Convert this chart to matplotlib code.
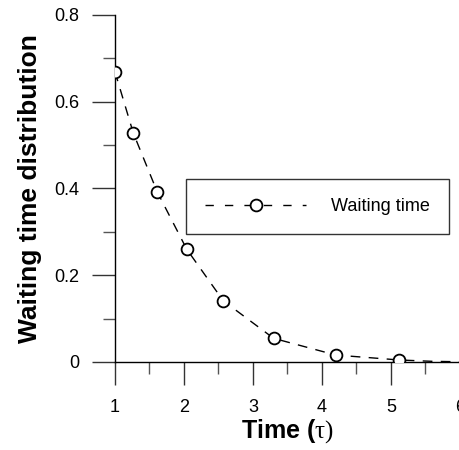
import numpy as np
import matplotlib.pyplot as plt
from matplotlib.ticker import MultipleLocator

# waiting time distribution vs time
t = np.array([1.0, 1.265, 1.613, 2.04, 2.57, 3.30, 4.20, 5.12])
p = np.array([0.669, 0.528, 0.392, 0.260, 0.141, 0.0545, 0.016, 0.0046])
# tail of the dashed curve out to the axis end
t_tail = np.array([5.6, 6.0])
p_tail = np.array([0.0015, 0.0005])

plt.rcParams['font.family'] = ['Liberation Sans', 'DejaVu Sans']
plt.rcParams['mathtext.fontset'] = 'custom'
plt.rcParams['mathtext.rm'] = 'Liberation Serif'
plt.rcParams['mathtext.it'] = 'Liberation Serif'

fig = plt.figure(figsize=(4.59, 4.50), dpi=100)
ax = fig.add_axes([0.2505, 0.1956, 0.7515, 0.7711])

ax.plot(np.concatenate([t, t_tail]), np.concatenate([p, p_tail]), '--',
        color='black', lw=1.0, dashes=(7, 6), zorder=2)
ax.plot(t, p, 'o', mfc='white', mec='black', mew=1.3, ms=8.5, zorder=3)
# legend proxy: dashed line with marker in the middle
ax.plot([], [], '--', color='black', lw=1.0, dashes=(6, 8), marker='o',
        mfc='white', mec='black', mew=1.3, ms=8.5, markevery=[1],
        label='Waiting time')

ax.set_xlim(1, 6)
ax.set_ylim(0, 0.8)
ax.xaxis.set_major_locator(MultipleLocator(1))
ax.xaxis.set_minor_locator(MultipleLocator(0.5))
ax.yaxis.set_major_locator(MultipleLocator(0.2))
ax.yaxis.set_minor_locator(MultipleLocator(0.1))
ax.set_yticks([0, 0.2, 0.4, 0.6, 0.8])
ax.set_yticklabels(['0', '0.2', '0.4', '0.6', '0.8'])

for s in ['top', 'right']:
    ax.spines[s].set_visible(False)
for s in ['left', 'bottom']:
    ax.spines[s].set_linewidth(1.0)
ax.tick_params(which='major', direction='out', length=16.5, width=1.0,
               labelsize=13, color='#333333')
ax.tick_params(which='minor', direction='out', length=8.5, width=1.0,
               color='#555555')
ax.tick_params(axis='y', which='major', pad=9)
ax.tick_params(axis='x', which='major', pad=10)

ax.set_xlabel(r'Time ($\tau)$', fontsize=18, fontweight='bold', labelpad=1)
ax.set_ylabel('Waiting time distribution', fontsize=19, fontweight='bold',
              labelpad=9)

leg = ax.legend(loc='upper left', bbox_to_anchor=(0.206, 0.527), fontsize=13,
                handlelength=5.6, handletextpad=1.4, borderpad=1.05,
                borderaxespad=0, fancybox=False, framealpha=1,
                edgecolor='#333333')
leg.get_frame().set_linewidth(1.0)

fig.savefig('out.png', dpi=100)
